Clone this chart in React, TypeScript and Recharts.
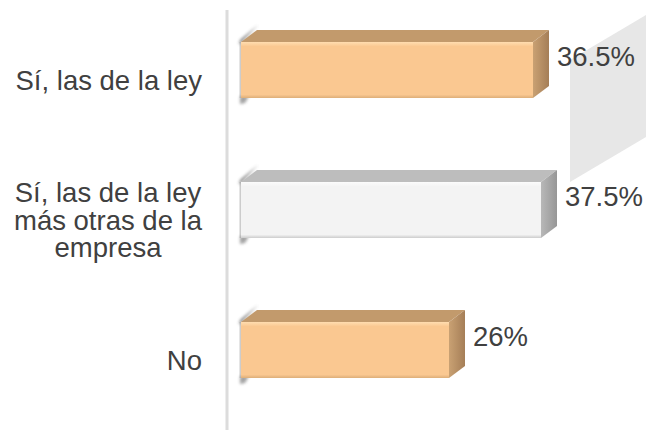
import { BarChart, Bar, XAxis, YAxis, LabelList, Customized } from "recharts";

// answers and shares
const categories = [
  "Sí, las de la ley",
  "Sí, las de la ley más otras de la empresa",
  "No",
];
const tickLines = [
  ["Sí, las de la ley"],
  ["Sí, las de la ley", "más otras de la", "empresa"],
  ["No"],
];
const values = [36.5, 37.5, 26];
const valueLabels = ["36.5%", "37.5%", "26%"];

const data = categories.map((name, i) => ({
  name,
  value: values[i],
  label: valueLabels[i],
}));

const FONT = "'Liberation Sans', Arial, sans-serif";
const FONT_SIZE = 27.5;
const LINE_HEIGHT = 27.5;
const TEXT = "#404040";

// 3d box look
const DX = 16;
const DY = 12;
const LIFT = 10;

const PEACH = {
  front: "#FAC891",
  hi: "#FFDDB0",
  edge: "#DDAE78",
  top: "#C29A6C",
  sideA: "#C9A173",
  sideB: "#A57E57",
};
const WHITE = {
  front: "#F3F3F3",
  hi: "#FBFBFB",
  edge: "#CCCCCC",
  top: "#BDBDBD",
  sideA: "#B8B8B8",
  sideB: "#969696",
};
const faces = [PEACH, WHITE, PEACH];

let ctx: CanvasRenderingContext2D | null = null;
function textWidth(s: string) {
  if (!ctx) ctx = document.createElement("canvas").getContext("2d");
  if (!ctx) return s.length * FONT_SIZE * 0.5;
  ctx.font = `${FONT_SIZE}px ${FONT}`;
  return ctx.measureText(s).width;
}

function CategoryTick(props: any) {
  const { x, y, payload } = props;
  const i = categories.indexOf(payload.value);
  const lines = tickLines[i] || [String(payload.value)];
  const multi = lines.length > 1;
  const blockW = Math.max(...lines.map(textWidth));
  const tx = multi ? x - blockW / 2 : x;
  return (
    <text
      x={tx}
      y={y}
      textAnchor={multi ? "middle" : "end"}
      fill={TEXT}
      fontFamily={FONT}
      fontSize={FONT_SIZE}
    >
      {lines.map((line, k) => (
        <tspan
          key={k}
          x={tx}
          y={y + (k - (lines.length - 1) / 2) * LINE_HEIGHT}
          dy="0.35em"
        >
          {line}
        </tspan>
      ))}
    </text>
  );
}

function BoxBar(props: any) {
  const { x, width, height, index } = props;
  const y = props.y - LIFT;
  const f = faces[index] || PEACH;
  const w = Math.max(width, 0);
  const h = height;
  const gid = `side-${index}`;
  const fid = `front-${index}`;
  return (
    <g>
      <defs>
        <linearGradient id={gid} x1="0" y1="0" x2="1" y2="0">
          <stop offset="0%" stopColor={f.sideA} />
          <stop offset="100%" stopColor={f.sideB} />
        </linearGradient>
        <linearGradient id={fid} x1="0" y1="0" x2="0" y2="1">
          <stop offset="0%" stopColor={f.hi} />
          <stop offset="8%" stopColor={f.front} />
          <stop offset="94%" stopColor={f.front} />
          <stop offset="100%" stopColor={f.edge} />
        </linearGradient>
        <filter id="soft" x="-50%" y="-50%" width="200%" height="200%">
          <feGaussianBlur stdDeviation="1.4" />
        </filter>
      </defs>
      {/* soft shadows at the left end */}
      <polygon
        points={`${x - 2},${y + 3} ${x + DX - 2},${y - DY - 2} ${x + DX + 1},${y - DY - 5} ${x - 1},${y - 2}`}
        fill="#555555"
        opacity={0.75}
        filter="url(#soft)"
      />
      <polygon
        points={`${x - 1},${y + h - 2} ${x + 8},${y + h - 2} ${x + 4},${y + h + 5} ${x - 1},${y + h + 6}`}
        fill="#666666"
        opacity={0.6}
        filter="url(#soft)"
      />
      <rect x={x - 1.5} y={y} width={1.5} height={h} fill="#9A9A9A" opacity={0.5} />
      <polygon
        points={`${x},${y} ${x + DX},${y - DY} ${x + w + DX},${y - DY} ${x + w},${y}`}
        fill={f.top}
      />
      <polygon
        points={`${x + w},${y} ${x + w + DX},${y - DY} ${x + w + DX},${y + h - DY} ${x + w},${y + h}`}
        fill={`url(#${gid})`}
      />
      <rect x={x} y={y} width={w} height={h} fill={`url(#${fid})`} />
    </g>
  );
}

function ValueLabel(props: any) {
  const { x, y, width, height, value } = props;
  return (
    <text
      x={x + width + DX + 8}
      y={y + height / 2 - LIFT - 14}
      dy="0.35em"
      fill={TEXT}
      fontFamily={FONT}
      fontSize={FONT_SIZE}
    >
      {value}
    </text>
  );
}

// grey side wall left over from the 3d frame
function SideWall() {
  return <polygon points="570,60 646,15 646,137 570,182" fill="#E7E7E7" />;
}

export default function App() {
  return (
    <div
      style={{
        position: "absolute",
        left: 0,
        top: 0,
        width: 646,
        height: 430,
        background: "#fff",
      }}
    >
      <BarChart
        width={646}
        height={430}
        data={data}
        layout="vertical"
        margin={{ top: 10, right: 0, bottom: 0, left: 0 }}
      >
        <Customized component={SideWall} />
        <XAxis type="number" hide domain={[-1.75, 50.625]} allowDataOverflow />
        <YAxis
          type="category"
          dataKey="name"
          width={227}
          axisLine={{ stroke: "#DCDCDC", strokeWidth: 3 }}
          tickLine={false}
          tickMargin={19}
          tick={<CategoryTick />}
          interval={0}
        />
        <Bar
          dataKey="value"
          barSize={56}
          shape={<BoxBar />}
          isAnimationActive={false}
        >
          <LabelList dataKey="label" content={<ValueLabel />} />
        </Bar>
      </BarChart>
    </div>
  );
}
